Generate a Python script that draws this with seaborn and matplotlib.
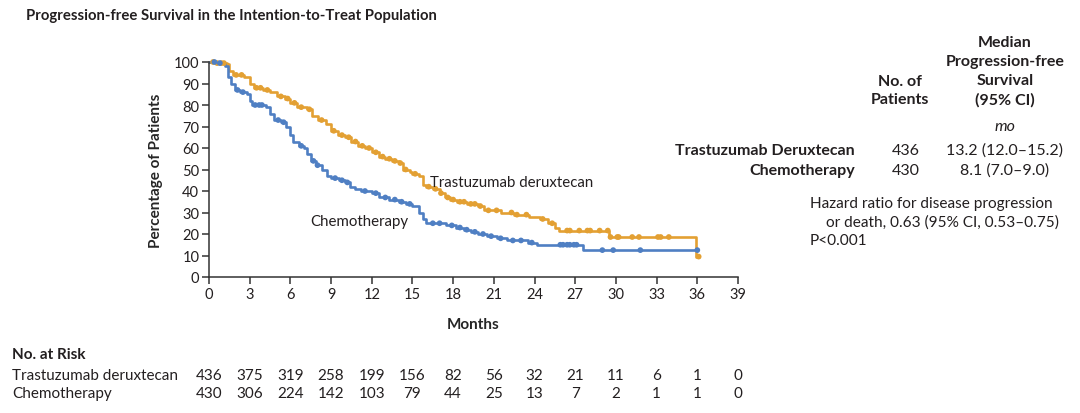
import numpy as np
import pandas as pd
import matplotlib
matplotlib.use("Agg")
import matplotlib.pyplot as plt
import matplotlib.transforms as mtransforms
import seaborn as sns

# Kaplan-Meier step points (month, percent)
tdxd_time = [0, 0.5, 1.3, 1.5, 1.8, 2.6, 3.0, 3.3, 4.0, 4.5, 5.0, 5.6, 6.0, 6.5, 7.2, 7.6,
             8.0, 8.6, 9.0, 9.5, 10.0, 10.5, 11.0, 11.5, 12.0, 12.5, 13.0, 13.5, 14.0,
             14.3, 14.8, 15.0, 15.5, 15.8, 16.0, 16.5, 17.0, 17.4, 17.8, 18.3, 19.0,
             19.8, 20.3, 21.5, 22.5, 23.6, 24.4, 25.0, 25.5, 25.8, 29.5, 35.9, 36.1]
tdxd_surv = [100, 99.5, 99, 96, 94, 93, 90, 88, 87, 86, 84, 83, 81, 79, 78, 75,
             73, 71, 68, 66, 65, 63, 61, 60, 58, 56, 55, 54, 53,
             50, 49, 48, 47, 43, 42, 41, 39, 37, 36, 35, 34,
             33, 31, 30, 29, 28, 27, 25, 23, 21.6, 18.6, 9.5, 9.5]
tdxd_censor = [0.3, 0.6, 0.9, 1.1, 2.0, 2.4, 3.5, 3.8, 4.3, 5.3, 5.8, 6.3, 6.8, 7.4, 8.3,
               9.2, 9.8, 10.3, 10.8, 11.3, 11.8, 12.3, 12.8, 13.3, 13.7, 14.1, 14.5, 15.2,
               16.2, 16.7, 17.1, 17.6, 18.0, 18.5, 18.8, 19.3, 19.6, 20.0, 20.6, 21.2,
               22.3, 22.7, 23.4, 24.6, 25.3, 26.4, 26.6, 27.3, 27.9, 28.1, 28.8, 29.4,
               29.6, 30.1, 30.2, 31.2, 31.7, 33.1, 33.3, 33.9, 36.1]

chemo_time = [0, 0.6, 1.2, 1.4, 1.6, 1.9, 2.3, 2.8, 3.0, 3.2, 4.2, 4.5, 4.8, 5.3, 5.7,
              6.0, 6.2, 6.6, 7.0, 7.2, 7.5, 7.9, 8.3, 8.7, 9.0, 9.6, 10.0, 10.4, 10.8,
              11.2, 12.0, 12.5, 13.3, 14.0, 14.5, 15.0, 15.5, 15.8, 16.0, 17.5, 18.2,
              18.8, 19.3, 19.8, 20.5, 21.2, 22.0, 23.5, 24.2, 27.6, 36.0]
chemo_surv = [100, 99.5, 98, 93, 90, 87, 86, 85, 82, 80, 79, 76, 73, 72, 70,
              66, 63, 61, 60, 57, 54, 52, 50, 47, 46, 45, 44, 42, 41,
              40, 39, 37, 36, 35, 34, 33, 30, 27, 25, 24, 23,
              22, 21, 20, 19, 18, 17, 16, 15, 12.5, 12.5]
chemo_censor = [0.4, 0.8, 2.1, 2.5, 3.4, 3.7, 3.9, 5.1, 5.5, 6.8, 7.7, 8.0, 9.3, 9.8,
                10.2, 11.5, 12.3, 13.0, 13.7, 14.2, 14.8, 16.5, 17.0, 17.9, 18.5, 19.0,
                19.6, 20.2, 20.8, 21.5, 22.4, 23.0, 23.8, 25.9, 26.1, 26.4, 26.6, 26.9,
                27.1, 29.0, 29.8, 31.8, 36.0]

risk_months = [0, 3, 6, 9, 12, 15, 18, 21, 24, 27, 30, 33, 36, 39]
risk_tdxd = [436, 375, 319, 258, 199, 156, 82, 56, 32, 21, 11, 6, 1, 0]
risk_chemo = [430, 306, 224, 142, 103, 79, 44, 25, 13, 7, 2, 1, 1, 0]

orange = "#E3A033"
blue = "#4F7FC3"
ink = "#231F20"


def step_value(times, surv, t):
    # KM value in force at time t
    idx = np.searchsorted(times, t, side="right") - 1
    return np.asarray(surv)[idx]


sns.set_theme(style="ticks")
plt.rcParams["font.family"] = ["Lato", "DejaVu Sans"]
plt.rcParams["text.color"] = ink

fig = plt.figure(figsize=(10.8, 4.14), dpi=100)
W, H = 1080, 414
ax = fig.add_axes([209 / W, 1 - 278 / H, (738 - 209) / W, (278 - 63) / H])

curves = pd.concat([
    pd.DataFrame({"month": tdxd_time, "pct": tdxd_surv, "arm": "T-DXd"}),
    pd.DataFrame({"month": chemo_time, "pct": chemo_surv, "arm": "Chemo"}),
])
censors = pd.concat([
    pd.DataFrame({"month": tdxd_censor,
                  "pct": step_value(tdxd_time, tdxd_surv, tdxd_censor), "arm": "T-DXd"}),
    pd.DataFrame({"month": chemo_censor,
                  "pct": step_value(chemo_time, chemo_surv, chemo_censor), "arm": "Chemo"}),
])
pal = {"T-DXd": orange, "Chemo": blue}

sns.lineplot(data=curves, x="month", y="pct", hue="arm", palette=pal, estimator=None,
             drawstyle="steps-post", linewidth=1.9, legend=False, ax=ax, clip_on=False)
sns.scatterplot(data=censors, x="month", y="pct", hue="arm", palette=pal, s=17,
                edgecolor="none", legend=False, ax=ax, clip_on=False, zorder=3)

ax.set_xlim(0, 39)
ax.set_ylim(0, 100)
ax.set_xticks(risk_months)
ax.set_yticks(range(0, 101, 10))
for side in ["top", "right"]:
    ax.spines[side].set_visible(False)
for side in ["left", "bottom"]:
    ax.spines[side].set_color("#333333")
    ax.spines[side].set_linewidth(1.1)
ax.tick_params(axis="both", direction="out", length=5, width=1.1, color="#333333",
               labelsize=10.5, labelcolor=ink, pad=2)
ax.set_xlabel("Months", fontsize=11, fontweight="bold", labelpad=12)
ax.set_ylabel("Percentage of Patients", fontsize=11, fontweight="bold", labelpad=8)

ax.text(16.3, 44.2, "Trastuzumab deruxtecan", fontsize=10.8, va="center", ha="left")
ax.text(7.45, 26, "Chemotherapy", fontsize=10.8, va="center", ha="left")


def ftext(x, y, s, **kw):
    fig.text(x / W, 1 - y / H, s, **kw)


ftext(26, 16, "Progression-free Survival in the Intention-to-Treat Population",
      fontsize=10.7, fontweight="bold", va="center")

# summary table on the right
tfs = 11.5
ftext(1005, 71.5, "Median\nProgression-free\nSurvival\n(95% CI)", fontsize=tfs,
      fontweight="bold", ha="center", va="center", linespacing=1.45)
ftext(900, 91, "No. of\nPatients", fontsize=tfs, fontweight="bold",
      ha="center", va="center", linespacing=1.45)
ftext(1005, 127, "mo", fontsize=tfs, style="italic", ha="center", va="center")
ftext(855, 151, "Trastuzumab Deruxtecan", fontsize=tfs, fontweight="bold",
      ha="right", va="center")
ftext(855, 171, "Chemotherapy", fontsize=tfs, fontweight="bold", ha="right", va="center")
ftext(906, 151, "436", fontsize=tfs, ha="center", va="center")
ftext(906, 171, "430", fontsize=tfs, ha="center", va="center")
ftext(1005, 151, "13.2 (12.0\u201315.2)", fontsize=tfs, ha="center", va="center")
ftext(1005, 171, "8.1 (7.0\u20139.0)", fontsize=tfs, ha="center", va="center")
ftext(810, 204, "Hazard ratio for disease progression", fontsize=11.1, va="center")
ftext(826, 223, "or death, 0.63 (95% CI, 0.53\u20130.75)", fontsize=11.1, va="center")
ftext(810, 241, "P<0.001", fontsize=11.1, va="center")

# number at risk
rfs = 11
ftext(12, 355, "No. at Risk", fontsize=rfs, fontweight="bold", va="center")
ftext(12, 376, "Trastuzumab deruxtecan", fontsize=rfs, va="center")
ftext(12, 394, "Chemotherapy", fontsize=rfs, va="center")
trans = mtransforms.blended_transform_factory(ax.transData, fig.transFigure)
for m, a, b in zip(risk_months, risk_tdxd, risk_chemo):
    ax.text(m, 1 - 376 / H, str(a), transform=trans, fontsize=rfs, ha="center", va="center")
    ax.text(m, 1 - 394 / H, str(b), transform=trans, fontsize=rfs, ha="center", va="center")

fig.savefig("out.png", dpi=100)
